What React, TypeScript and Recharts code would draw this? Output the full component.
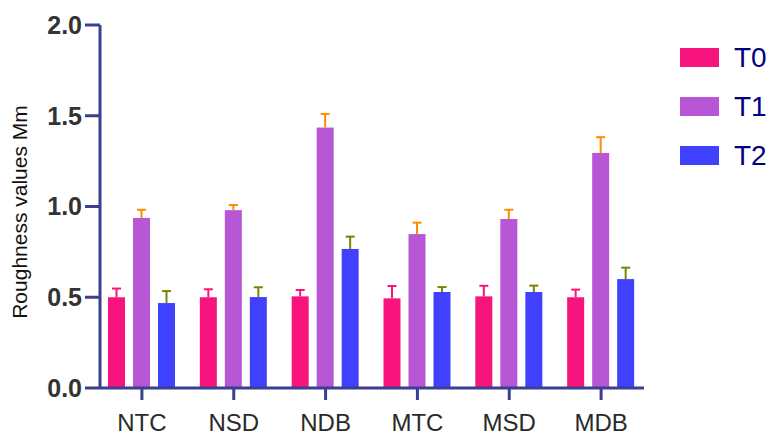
import { BarChart, Bar, XAxis, YAxis } from "recharts";

const categories = ["NTC", "NSD", "NDB", "MTC", "MSD", "MDB"];
const t0 = [0.5, 0.5, 0.505, 0.494, 0.505, 0.5];
const t0Err = [0.048, 0.044, 0.035, 0.068, 0.058, 0.042];
const t1 = [0.937, 0.98, 1.435, 0.848, 0.931, 1.295];
const t1Err = [0.045, 0.028, 0.075, 0.063, 0.051, 0.087];
const t2 = [0.468, 0.501, 0.766, 0.529, 0.529, 0.6];
const t2Err = [0.066, 0.054, 0.068, 0.027, 0.035, 0.063];
const yTicks = [0, 0.5, 1, 1.5, 2];

const data = categories.map((name, i) => ({
  name,
  T0: t0[i],
  T0err: t0Err[i],
  T1: t1[i],
  T1err: t1Err[i],
  T2: t2[i],
  T2err: t2Err[i],
}));

const series = [
  { key: "T0", color: "#f7157d", errColor: "#f7157d" },
  { key: "T1", color: "#b857d6", errColor: "#ff8c00" },
  { key: "T2", color: "#4040ff", errColor: "#808000" },
];

const AXIS = "#3a3f8f";
const FONT = "'Liberation Sans', Arial, sans-serif";

// bar + upward-only error whisker
const makeShape = (key: string, color: string, errColor: string) => (props: any) => {
  const { x, y, width, height, payload } = props;
  const v = payload[key];
  const e = payload[key + "err"];
  const pxPerUnit = v ? height / v : 0;
  const cx = x + width / 2;
  const top = y - e * pxPerUnit;
  return (
    <g>
      <rect x={x} y={y} width={width} height={height} fill={color} />
      <line x1={cx} x2={cx} y1={y} y2={top} stroke={errColor} strokeWidth={2} />
      <line x1={cx - 4.5} x2={cx + 4.5} y1={top} y2={top} stroke={errColor} strokeWidth={2} />
    </g>
  );
};

const YLabel = () => {
  const cy = 212;
  return (
    <text
      x={19}
      y={cy}
      transform={`rotate(-90, 19, ${cy})`}
      textAnchor="middle"
      dominantBaseline="central"
      fontFamily={FONT}
      fontSize={21}
      fill="#111"
    >
      Roughness values Mm
    </text>
  );
};

export default function App() {
  return (
    <div style={{ position: "absolute", left: 0, top: 0, width: 771, height: 436, background: "#fff" }}>
      <BarChart
        width={771}
        height={436}
        data={data}
        margin={{ top: 25, right: 127, bottom: 0, left: 0 }}
        barSize={17}
        barGap={8}
      >
        <XAxis
          dataKey="name"
          height={48}
          padding={{ left: -4, right: -3 }}
          axisLine={{ stroke: AXIS, strokeWidth: 3 }}
          tickLine={{ stroke: AXIS, strokeWidth: 3 }}
          tickSize={12}
          tickMargin={14}
          tick={{ fontFamily: FONT, fontSize: 24, fill: "#2a2a2a" }}
        />
        <YAxis
          width={100}
          domain={[0, 2]}
          ticks={yTicks}
          interval={0}
          tickFormatter={(v: number) => v.toFixed(1)}
          axisLine={{ stroke: AXIS, strokeWidth: 3 }}
          tickLine={{ stroke: AXIS, strokeWidth: 3 }}
          tickSize={15}
          tickMargin={3}
          tick={{ fontFamily: FONT, fontSize: 25, fontWeight: "bold", fill: "#333" }}
          label={{ content: YLabel }}
        />
        {series.map((s) => (
          <Bar
            key={s.key}
            dataKey={s.key}
            fill={s.color}
            isAnimationActive={false}
            shape={makeShape(s.key, s.color, s.errColor)}
          />
        ))}
      </BarChart>
      <div style={{ position: "absolute", left: 680, top: 33 }}>
        {series.map((s) => (
          <div key={s.key} style={{ display: "flex", alignItems: "center", height: 49 }}>
            <div style={{ width: 39, height: 19, background: s.color, marginRight: 15 }} />
            <span style={{ fontFamily: FONT, fontSize: 28, color: "#000080" }}>{s.key}</span>
          </div>
        ))}
      </div>
    </div>
  );
}
